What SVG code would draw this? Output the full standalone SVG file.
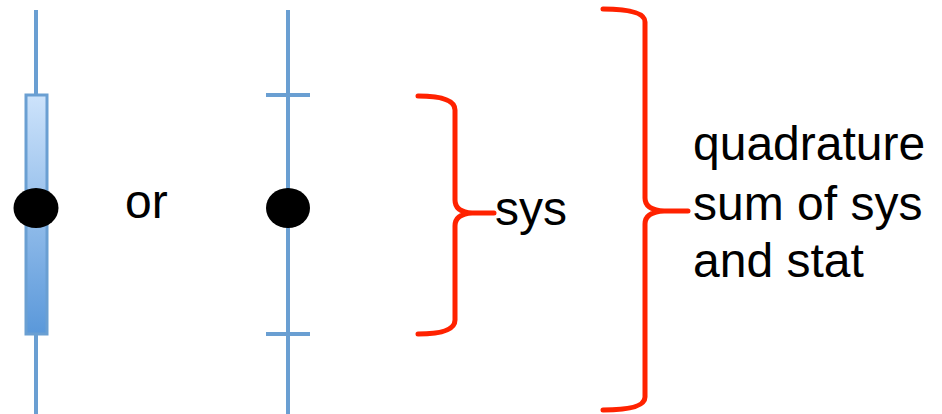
<svg xmlns="http://www.w3.org/2000/svg" width="942" height="414" viewBox="0 0 942 414">
<style>
.bl{stroke:#6a9fd2;stroke-width:4;fill:none}
.br{stroke:#ff2200;stroke-width:5;fill:none;stroke-linecap:round;stroke-linejoin:round}
.t{font-family:"Liberation Sans",Arial,sans-serif;font-size:48px;fill:#000}
</style>
<defs>
<linearGradient id="g" x1="0" y1="0" x2="0" y2="1">
<stop offset="0" stop-color="#cde3fb"/>
<stop offset="1" stop-color="#5a98da"/>
</linearGradient>
</defs>
<g id="bar-errorbar">
<line class="bl" x1="36" y1="10" x2="36" y2="414"/>
<rect x="26" y="95" width="21" height="239" fill="url(#g)" stroke="#6a9fd2" stroke-width="3"/>
<ellipse cx="36" cy="208" rx="22.5" ry="20" fill="#000"/>
</g>
<g id="or-label"><text class="t" x="125" y="218">or</text></g>
<g id="tick-errorbar">
<line class="bl" x1="288" y1="10" x2="288" y2="414"/>
<line class="bl" x1="266" y1="95" x2="310" y2="95"/>
<line class="bl" x1="266" y1="334" x2="310" y2="334"/>
<ellipse cx="288" cy="208" rx="22" ry="20" fill="#000"/>
</g>
<g id="connectors">
<path class="br" d="M418,96 Q455,96 455,110 L455,200 Q455,212 472,213 L494,213 M472,213 Q455,214 455,226 L455,320 Q455,334 418,334"/>
<path class="br" d="M603,9 Q645,9 645,22 L645,198 Q645,210 664,211 L688,211 M664,211 Q645,212 645,224 L645,397 Q645,410 603,410"/>
</g>
<g id="sys-label"><text class="t" x="495" y="225">sys</text></g>
<g id="quad-label">
<text class="t" x="693" y="160">quadrature</text>
<text class="t" x="693" y="220">sum of sys</text>
<text class="t" x="693" y="277">and stat</text>
</g>
</svg>
